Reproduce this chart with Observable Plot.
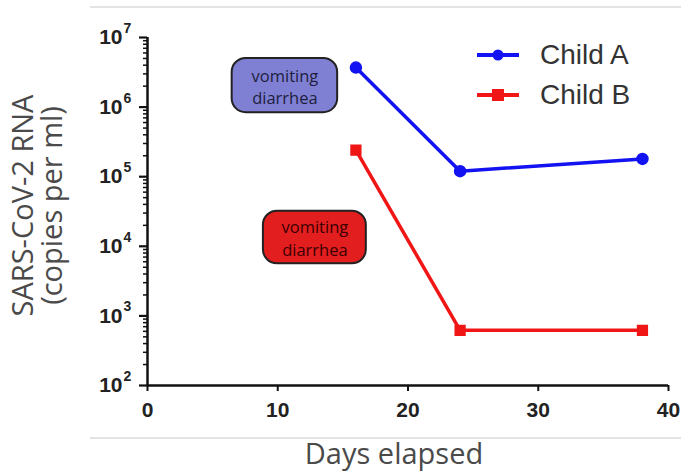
<!DOCTYPE html>
<html><head><meta charset="utf-8">
<script src="https://cdn.jsdelivr.net/npm/d3@7"></script>
<script src="https://cdn.jsdelivr.net/npm/@observablehq/plot@0.6"></script>
<style>
body{margin:0;background:#fff;}
#wrap{position:relative;width:681px;height:471px;overflow:hidden;background:#fff;}
.gray{position:absolute;left:90px;right:0;height:2px;background:#e4e4e4;}
#legend{position:absolute;left:475px;top:35px;font-family:"Liberation Sans",Arial,sans-serif;font-size:28px;color:#333;}
#legend .item{display:flex;align-items:center;height:40px;}
#legend svg{margin-right:19px;}
</style></head><body>
<div id="wrap">
  <div class="gray" style="top:6px"></div>
  <div class="gray" style="top:437px"></div>
  <div id="legend"></div>
</div>
<script>
// ---- data ----
const days = [16, 24, 38];
const childA = [3.7e6, 1.2e5, 1.8e5];
const childB = [2.4e5, 620, 620];
const seriesNames = ["Child A", "Child B"];
const seriesColors = ["#1212f2", "#f01616"];
const seriesSymbols = ["circle", "square"];
const xTicks = [0, 10, 20, 30, 40];
const yExponents = [2, 3, 4, 5, 6, 7];
const noteLabels = ["vomiting\ndiarrhea", "vomiting\ndiarrhea"];
const noteDays = [[6.5, 14.6], [8.9, 16.8]];
const noteValues = [[8.3e5, 5.0e6], [5.6e3, 3.2e4]];
const noteFills = ["#7f80d4", "#e21e1e"];
const noteInk = ["#1e1e3c", "#3a0000"];

// ---- build tables ----
const rows = [];
[childA, childB].forEach((vals, s) => days.forEach((d, i) => rows.push({series: seriesNames[s], day: d, value: vals[i]})));
const notes = noteLabels.map((t, i) => ({text: t, x1: noteDays[i][0], x2: noteDays[i][1], y1: noteValues[i][0], y2: noteValues[i][1], fill: noteFills[i], ink: noteInk[i]}));
const majorY = yExponents.map(e => Math.pow(10, e));
const minorY = [];
yExponents.slice(0, -1).forEach(e => { for (let m = 2; m <= 9; m++) minorY.push(m * Math.pow(10, e)); });

const tickFont = "'Liberation Sans', Arial, sans-serif";
const labelFont = "'Open Sans', sans-serif";

const chart = Plot.plot({
  width: 681, height: 471,
  marginLeft: 147, marginRight: 13, marginTop: 37, marginBottom: 86,
  style: {background: "transparent", overflow: "visible"},
  x: {domain: [0, 40]},
  y: {type: "log", domain: [100, 1e7]},
  color: {domain: seriesNames, range: seriesColors},
  symbol: {domain: seriesNames, range: seriesSymbols},
  marks: [
    Plot.axisY({ticks: minorY, tickSize: 4, tickFormat: () => "", stroke: "#111", strokeWidth: 1.5}),
    Plot.axisY({ticks: majorY, tickSize: 8, tickFormat: () => "", stroke: "#111", strokeWidth: 2.2}),
    Plot.text(majorY, {frameAnchor: "left", y: d => d, text: () => "10", textAnchor: "end", dx: -25, fontSize: 21, fontWeight: "bold", fontFamily: tickFont, fill: "#222"}),
    Plot.text(yExponents, {frameAnchor: "left", y: (d, i) => majorY[i], text: d => String(d), textAnchor: "start", dx: -24, dy: -9, fontSize: 14, fontWeight: "bold", fontFamily: tickFont, fill: "#222"}),
    Plot.axisX({ticks: xTicks, tickSize: 6, tickPadding: 11, fontSize: 21, fontWeight: "bold", fontFamily: tickFont, fill: "#222", stroke: "#111", strokeWidth: 2, label: null}),
    Plot.ruleX([0], {y1: 100, y2: 1e7, stroke: "#111", strokeWidth: 2.5}),
    Plot.ruleY([100], {x1: 0, x2: 40, stroke: "#111", strokeWidth: 2.5}),
    Plot.rect(notes, {x1: "x1", x2: "x2", y1: "y1", y2: "y2", fill: "fill", stroke: "#222", strokeWidth: 2, rx: 14}),
    Plot.text(notes, {x: d => (d.x1 + d.x2) / 2, y: d => Math.sqrt(d.y1 * d.y2), text: "text", fill: "ink", fontSize: 16.5, fontFamily: labelFont, lineHeight: 1.35}),
    Plot.line(rows, {x: "day", y: "value", z: "series", stroke: "series", strokeWidth: 3.5}),
    Plot.dot(rows, {x: "day", y: "value", fill: "series", stroke: "series", symbol: "series", r: 5.5}),
    Plot.text(["SARS-CoV-2 RNA\n(copies per ml)"], {frameAnchor: "left", text: d => d, rotate: -90, textAnchor: "middle", dx: -109, dy: -6, fontSize: 29, fontFamily: labelFont, fill: "#4a4a4a", lineHeight: 0.98}),
    Plot.text(["Days elapsed"], {frameAnchor: "bottom", text: d => d, textAnchor: "middle", dx: -14, dy: 78, fontSize: 29, fontFamily: labelFont, fill: "#4a4a4a"})
  ]
});
const wrap = document.getElementById("wrap");
chart.style.position = "absolute";
chart.style.left = "0"; chart.style.top = "0";
wrap.insertBefore(chart, wrap.firstChild);

// legend
const legend = d3.select("#legend");
seriesNames.forEach((name, i) => {
  const item = legend.append("div").attr("class", "item");
  const svg = item.append("svg").attr("width", 46).attr("height", 20);
  svg.append("line").attr("x1", 2).attr("x2", 44).attr("y1", 10).attr("y2", 10).attr("stroke", seriesColors[i]).attr("stroke-width", 4);
  if (seriesSymbols[i] === "circle") svg.append("circle").attr("cx", 23).attr("cy", 10).attr("r", 5.5).attr("fill", seriesColors[i]);
  else svg.append("rect").attr("x", 17).attr("y", 4).attr("width", 12).attr("height", 12).attr("fill", seriesColors[i]);
  item.append("span").text(name);
});
</script>
</body></html>
